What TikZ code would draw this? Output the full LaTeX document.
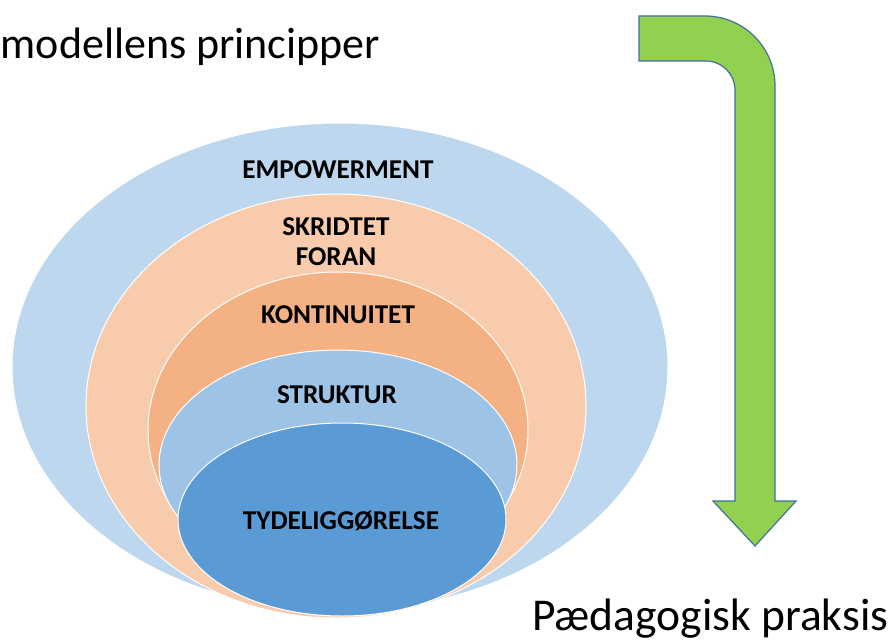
\documentclass[tikz,border=0pt]{standalone}
\usepackage{fontspec}
\setmainfont{Carlito}
\usetikzlibrary{shapes.geometric}
\definecolor{ringA}{HTML}{BDD7EE}
\definecolor{ringB}{HTML}{F8CBAD}
\definecolor{ringC}{HTML}{F4B183}
\definecolor{ringD}{HTML}{9DC3E6}
\definecolor{ringE}{HTML}{5B9BD5}
\definecolor{arrowgreen}{HTML}{92D050}
\definecolor{arrowline}{HTML}{41719C}
\tikzset{
  ring/.style={ellipse, draw=white, line width=1pt, inner sep=0pt},
  lbl/.style={font=\fontsize{27.2}{30}\selectfont\bfseries, text=black, inner sep=0pt, align=center},
  big/.style={font=\fontsize{45.5}{50}\selectfont, text=black, inner sep=0pt}
}
\begin{document}
\begin{tikzpicture}[x=1pt,y=-1pt]
\useasboundingbox (0,0) rectangle (894,642);
% rings
\node[ring, fill=ringA, minimum width=656pt, minimum height=488pt] (r1) at (340,367) {};
\node[ring, fill=ringB, minimum width=500pt, minimum height=424pt] (r2) at (336,406) {};
\node[ring, fill=ringC, minimum width=380pt, minimum height=316pt] (r3) at (338,430) {};
\node[ring, fill=ringD, minimum width=358pt, minimum height=230pt] (r4) at (338,465) {};
\node[ring, fill=ringE, minimum width=328pt, minimum height=193pt] (r5) at (342,519.5) {};
% labels
\node[lbl, anchor=base] (t1) at (338,178) {EMPOWERMENT};
\node[lbl, anchor=center] (t2) at (336,242) {SKRIDTET\\FORAN};
\node[lbl, anchor=base] (t3) at (338,323) {KONTINUITET};
\node[lbl, anchor=base] (t4) at (337,403) {STRUKTUR};
\node[lbl, anchor=base] (t5) at (341,529) {TYDELIGGØRELSE};
% bent arrow
\draw[fill=arrowgreen, draw=arrowline, line width=1.2pt, line join=miter]
  (639,16) -- (705,16)
  arc[start angle=90, end angle=0, x radius=70pt, y radius=70pt]
  -- (775,501) -- (796,501) -- (755,546) -- (713,501) -- (735,501)
  -- (735,90)
  arc[start angle=0, end angle=90, x radius=29pt, y radius=29pt]
  -- (639,61) -- cycle;
% texts
\node[big, font=\fontsize{44}{50}\selectfont, anchor=base west] (title) at (0.5,59) {modellens principper};
\node[big, anchor=base west] (praksis) at (532,630) {Pædagogisk praksis};
\end{tikzpicture}
\end{document}
